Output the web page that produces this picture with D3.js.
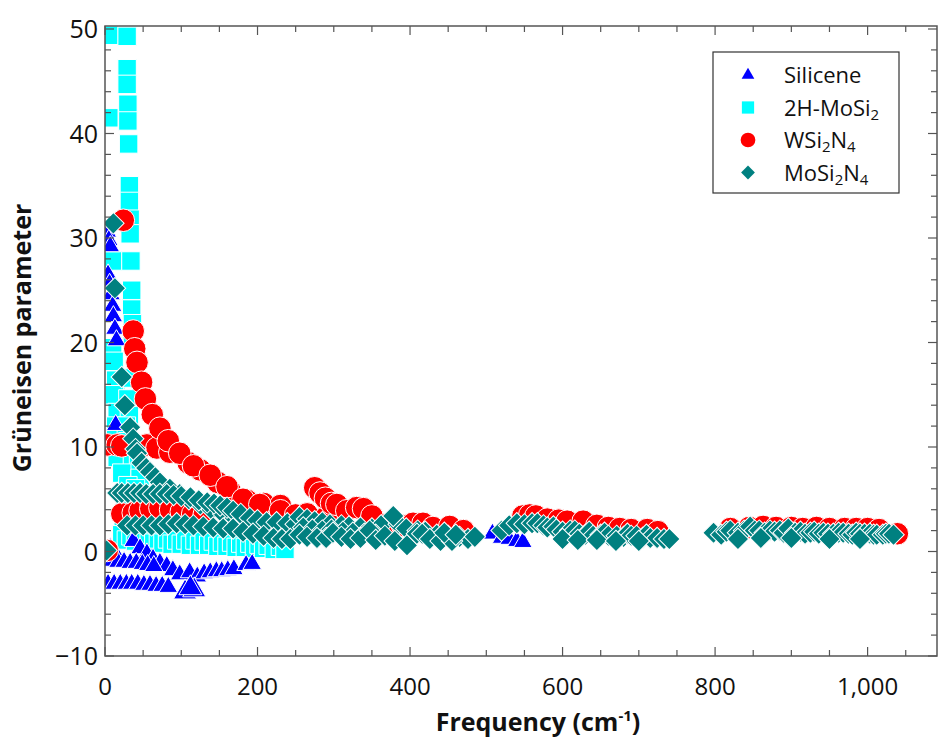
<!DOCTYPE html>
<html><head><meta charset="utf-8">
<script src="https://cdn.jsdelivr.net/npm/d3@7/dist/d3.min.js"></script>
<style>body{margin:0;background:#fff}svg{display:block}text{font-family:"Open Sans","Noto Sans",sans-serif}</style>
</head><body><svg id="c" width="939" height="737"></svg>
<script>
// ---- data: [frequency (cm^-1), Grüneisen parameter] ----
const seriesNames = ["Silicene", "2H-MoSi2", "WSi2N4", "MoSi2N4"];
const xTicksMajor = [0, 200, 400, 600, 800, 1000];
const yTicksMajor = [-10, 0, 10, 20, 30, 40, 50];

const silicene = [
  [3,30.6],[5,29.8],[7,29.2],[4,26.5],[6,25.6],[8,24.6],[10,23.5],[11,22.5],[13,21.3],[15,20.2],[14,12.1],
  [7,0.3],[13,-0.1],[37,1.0],[46,0.3],[55,-0.2],[63,-0.7],[72,-1.1],[81,-1.4],[89,-1.8],[98,-2.2],
  [4,-0.9],[10,-0.9],[17,-1.0],[25,-1.0],[33,-1.1],[41,-1.1],[49,-1.2],[56,-1.3],[64,-1.4],
  [4,-3.1],[12,-3.1],[20,-3.1],[28,-3.1],[35,-3.1],[43,-3.1],[51,-3.2],[59,-3.2],[67,-3.3],[75,-3.3],[83,-3.4],
  [111,-2.0],[121,-2.4],[130,-2.1],[138,-2.0],[146,-1.9],[153,-1.9],[161,-1.8],[169,-1.7],
  [185,-1.3],[193,-1.2],
  [508,1.7],[520,1.3],[530,1.2],[540,1.0],[548,0.9]
];
const siliceneBig = [[105,-3.9],[117,-3.7],[112,-3.5]];

const mosi2 = [
  [5,49.4],[29,49.3],[29,46.2],[29,44.7],[30,42.8],[5,41.5],[30,41.2],[31,39],[32,35],[32,33.5],[33,31.8],[33,30.4],
  [10,27.8],[34,27.8],[35,25],[35,23.2],[36,21.8],[36,20.5],[10,19.5],[12,18.2],[14,16.4],[34,16.6],[12,15],[30,14.6],
  [16,13.3],[32,13],[14,12],[28,12],[30,10.5],[16,9],[36,8.8],[44,8.4],[22,7.5],[46,7],[30,6.3],[40,6],[26,4.8],[36,4],
  [24,2.8],[40,2.6],
  [22,1.6],[28,1.1],[34,1.5],[40,1.0],[46,1.4],[52,0.9],[58,1.3],[64,0.8],[70,1.2],[76,0.8],[82,1.2],[88,0.7],[94,1.1],
  [100,0.7],[106,1.1],[112,0.6],[118,1.1],[124,0.6],[130,1.0],[136,0.6],[142,1.0],[148,0.5],[154,0.9],[160,0.5],
  [166,0.9],[172,0.4],[178,0.8],[184,0.4],[190,0.8],[196,0.3],[202,0.7],[208,0.3],[214,0.6],[222,0.2],[230,0.5],[236,0.2]
];

const wsi2n4 = [
  [3,0.1],
  [3,10.2],[16,10.2],[22,10.1],[55,10.2],[68,9.9],[85,9.5],[109,8.5],[125,7.8],[148,6.6],[164,5.8],[186,4.9],[208,4.6],[230,4.4],
  [22,3.6],[37,3.7],[46,3.9],[60,4.1],[72,4.2],[86,4.0],[100,3.8],[115,3.6],[130,3.5],
  [24,31.7],[37,21.1],[39,19.4],[42,18.1],[48,16.2],[53,14.6],[62,13.1],[72,11.8],[83,10.6],[98,9.4],[116,8.2],
  [138,7.3],[160,6.2],[181,5.0],[203,4.5],[230,3.9],[250,3.5],
  [265,3.6],[290,3.3],[275,6.1],[282,5.6],[289,5.1],[297,4.6],[304,4.5],[317,3.9],[330,4.2],[339,4.1],[350,3.4],
  [370,2.6],[390,2.5],[404,2.7],[417,2.7],[430,2.3],[452,2.4],[470,2.0],
  [548,3.4],[557,3.5],[565,3.4],[580,3.1],[595,3.0],[606,2.9],[627,2.9],[645,2.5],[660,2.3],[675,2.2],[690,2.1],[711,2.1],[725,1.9],
  [820,2.2],[845,2.3],[863,2.4],[880,2.3],[900,2.3],[915,2.2],[933,2.3],[950,2.2],[970,2.2],[985,2.2],[1000,2.2],[1015,2.1],[1039,1.7]
];

const mosi2n4 = [
  [2,0.1],[11,31.4],[13,25.2],[22,16.7],[26,14],[33,11.9],[37,10.8],[40,9.8],[42,9.4],[48,8.5],[54,8],[59,7.6],[66,7.1],
  [72,6.6],[85,6.0],[98,5.5],[110,5.0],[125,4.5],[140,4.0],[155,3.6],[170,3.2],[185,2.8],[200,2.4],[215,2.1],[230,1.8],[245,1.6],
  [16,5.6],[22,5.6],[30,5.6],[38,5.6],[46,5.6],[54,5.5],[63,5.5],[72,5.5],[81,5.5],[90,5.4],[100,5.3],[112,5.2],[123,4.9],
  [134,4.7],[143,4.6],[151,4.4],[160,4.2],[168,3.9],[178,3.6],[190,3.2],[200,3.0],[212,2.8],[225,2.8],[239,2.7],[250,2.6],
  [29,2.5],[40,2.5],[50,2.5],[61,2.5],[72,2.5],[83,2.6],[94,2.7],[105,2.6],[116,2.5],[129,2.4],[142,2.3],[155,2.2],[168,2.2],
  [181,1.9],[194,1.7],[208,1.5],[221,1.3],[232,1.2],[243,1.2],
  [255,3.3],[265,3.1],[275,2.9],[285,2.8],[295,2.6],[310,2.5],[320,2.4],[335,2.3],[350,2.2],[362,2.5],[385,2.6],[395,2.2],
  [410,2.0],[420,1.9],[435,1.6],[450,1.5],[465,1.4],[476,1.2],
  [260,2.3],[272,2.1],[285,2.0],[297,2.1],[312,1.9],[325,1.8],[340,1.7],[355,1.6],
  [255,1.6],[265,1.4],[278,1.3],[290,1.3],[299,1.8],[310,1.4],[322,1.2],[335,1.3],[347,2.0],[355,1.1],[367,1.5],[380,1.0],
  [396,0.6],[409,1.7],[416,1.7],[426,1.2],[440,1.0],[455,1.0],[378,3.4],[445,1.8],[460,1.6],[485,1.4],
  [520,2.0],[530,2.5],[540,2.7],[550,2.6],[560,2.7],[567,2.7],[575,2.5],[580,2.3],[588,2.4],[592,2.1],[600,1.9],[610,2.0],
  [616,2.0],[622,1.7],[630,1.6],[635,1.9],[640,1.5],[650,1.6],[655,1.8],[660,1.5],[671,1.5],[680,1.4],[685,1.7],[690,1.5],
  [697,1.5],[705,1.3],[710,1.6],[715,1.3],[724,1.3],[733,1.2],[740,1.2],
  [600,1.2],[620,1.1],[645,1.1],[670,1.0],[700,1.0],
  [798,1.8],[808,1.6],[815,1.9],[820,2.0],[830,1.8],[838,2.0],[846,2.4],[852,2.0],[858,2.0],[865,1.8],[872,2.0],[878,1.9],
  [885,2.0],[890,1.8],[896,2.2],[905,1.8],[912,1.9],[918,1.7],[925,1.8],[930,1.9],[936,1.7],[942,1.8],[948,1.7],[955,1.7],
  [962,1.8],[968,1.8],[975,1.7],[980,1.6],[985,1.8],[990,1.7],[996,1.7],[1003,1.7],[1008,1.6],[1012,1.6],[1020,1.6],
  [1024,1.7],[1028,1.7],[1034,1.6],
  [830,1.2],[860,1.3],[900,1.3],[950,1.2],[990,1.2]
];

// ---- drawing ----
const svg = d3.select("#c");
const L = 105, R = 937, T = 26, B = 656;
const x = d3.scaleLinear().domain([0, 1091]).range([L, R]);
const y = d3.scaleLinear().domain([-10, 50]).range([B, 29]);
const colors = {sil:"#0000ff", mos:"#00ffff", w:"#ff0000", mn:"#008080"};

svg.append("defs").append("clipPath").attr("id","clip")
  .append("rect").attr("x",L).attr("y",T).attr("width",R-L).attr("height",B-T);
const g = svg.append("g").attr("clip-path","url(#clip)");

function plot(data, type, size, color, rot) {
  const sym = d3.symbol().type(type).size(size);
  g.append("g").selectAll("path").data(data).join("path")
    .attr("d", sym)
    .attr("transform", d => `translate(${x(d[0])},${y(d[1])})${rot?" rotate(45)":""}`)
    .attr("fill", color).attr("stroke", "#fff").attr("stroke-width", 1);
}
plot(mosi2, d3.symbolSquare, 340, colors.mos);
plot(silicene, d3.symbolTriangle, 150, colors.sil);
plot(siliceneBig, d3.symbolTriangle, 230, colors.sil);
plot(wsi2n4, d3.symbolCircle, 400, colors.w);
plot(mosi2n4, d3.symbolSquare, 230, colors.mn, true);

// axes
const axColor = "#555";
const xMinor = d3.range(0, 1091, 50);
const yMinor = d3.range(-10, 50.1, 2);
function tickLines(vals, horiz) {
  const gg = svg.append("g").attr("stroke", axColor).attr("stroke-width", 1.2);
  vals.forEach(v => {
    const major = horiz ? (v % 200 === 0) : (v % 10 === 0);
    const len = major ? 9 : 6;
    if (horiz) {
      gg.append("line").attr("x1", x(v)).attr("x2", x(v)).attr("y1", B).attr("y2", B - len);
      gg.append("line").attr("x1", x(v)).attr("x2", x(v)).attr("y1", T).attr("y2", T + len);
    } else {
      gg.append("line").attr("y1", y(v)).attr("y2", y(v)).attr("x1", L).attr("x2", L + len);
      gg.append("line").attr("y1", y(v)).attr("y2", y(v)).attr("x1", R).attr("x2", R - len);
    }
  });
}
tickLines(xMinor, true);
tickLines(yMinor, false);
svg.append("rect").attr("x", L).attr("y", T).attr("width", R - L).attr("height", B - T)
  .attr("fill", "none").attr("stroke", axColor).attr("stroke-width", 1.5);

const fmt = d3.format(",");
svg.append("g").selectAll("text").data(xTicksMajor).join("text")
  .attr("x", d => x(d)).attr("y", 695).attr("text-anchor", "middle")
  .attr("font-size", 24).attr("fill", "#111").text(d => fmt(d));
svg.append("g").selectAll("text").data(yTicksMajor).join("text")
  .attr("x", 98).attr("y", d => y(d) + 9).attr("text-anchor", "end")
  .attr("font-size", 25).attr("fill", "#111").text(d => fmt(d));

// axis titles
svg.append("text").attr("transform", "translate(31,338) rotate(-90)")
  .attr("text-anchor", "middle").attr("font-size", 25).attr("font-weight", "bold").attr("fill", "#111")
  .text("Grüneisen parameter");
const xt = svg.append("text").attr("x", 538).attr("y", 731).attr("text-anchor", "middle")
  .attr("font-size", 25).attr("font-weight", "bold").attr("fill", "#111");
xt.append("tspan").text("Frequency (cm");
xt.append("tspan").attr("font-size", 15).attr("dy", -10).text("-1");
xt.append("tspan").attr("dy", 10).text(")");

// legend
const lg = svg.append("g");
lg.append("rect").attr("x", 713).attr("y", 52).attr("width", 186).attr("height", 141)
  .attr("fill", "#fff").attr("stroke", "#333").attr("stroke-width", 1.2);
const legendItems = [
  {label: [["Silicene"]], type: d3.symbolTriangle, size: 70, color: colors.sil, rot: false},
  {label: [["2H-MoSi"],["2","sub"]], type: d3.symbolSquare, size: 150, color: colors.mos, rot: false},
  {label: [["WSi"],["2","sub"],["N"],["4","sub"]], type: d3.symbolCircle, size: 170, color: colors.w, rot: false},
  {label: [["MoSi"],["2","sub"],["N"],["4","sub"]], type: d3.symbolSquare, size: 95, color: colors.mn, rot: true}
];
legendItems.forEach((it, i) => {
  const cy = 75 + i * 32.5;
  lg.append("path").attr("d", d3.symbol().type(it.type).size(it.size))
    .attr("transform", `translate(748,${cy})${it.rot ? " rotate(45)" : ""}`).attr("fill", it.color);
  const t = lg.append("text").attr("x", 784).attr("y", cy + 8).attr("font-size", 22).attr("fill", "#111");
  let sub = false;
  it.label.forEach(p => {
    const s = t.append("tspan").text(p[0]);
    if (p[1] === "sub") { s.attr("font-size", 15).attr("dy", sub ? 0 : 4); sub = true; }
    else if (sub) { s.attr("dy", -4); sub = false; }
  });
});
</script></body></html>
